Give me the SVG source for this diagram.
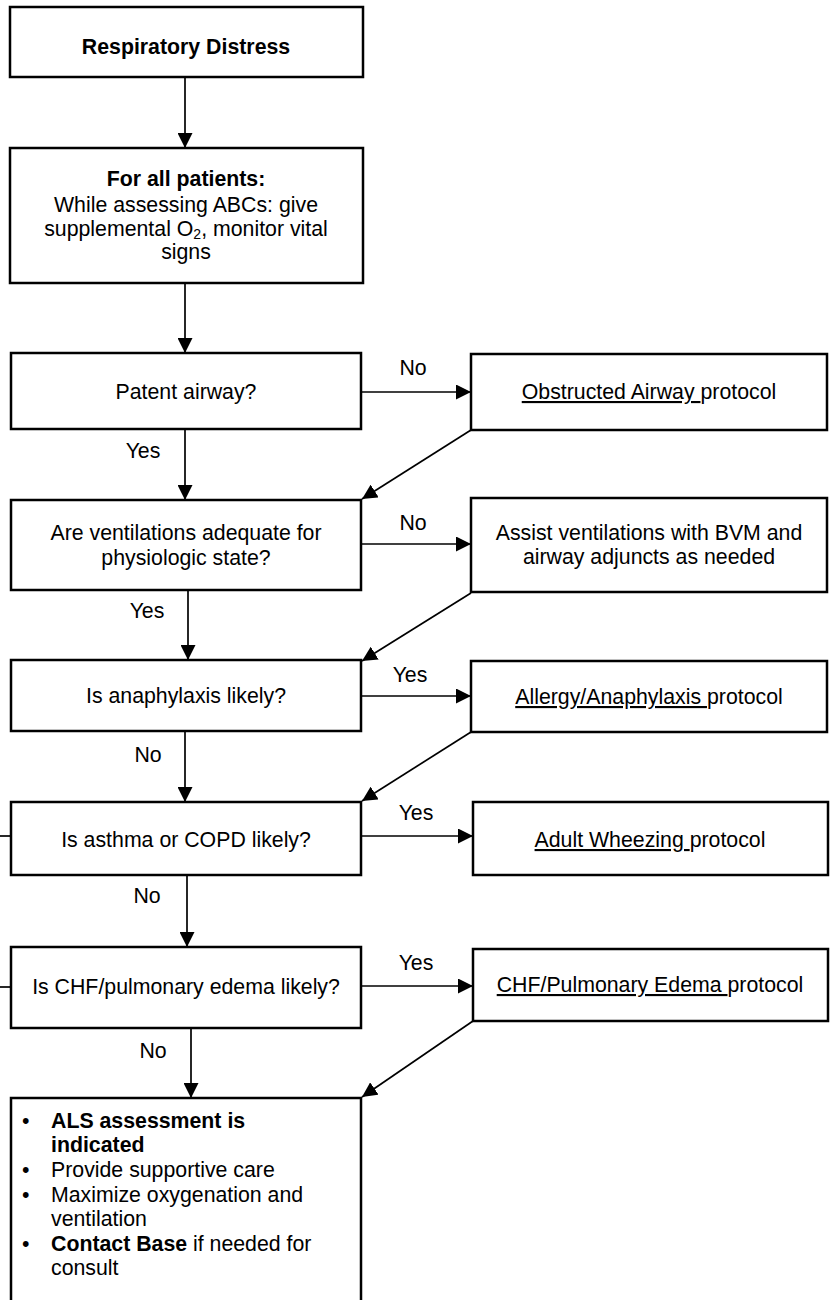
<svg xmlns="http://www.w3.org/2000/svg" width="830" height="1300" viewBox="0 0 830 1300">
  <style>
    .box { fill: #fff; stroke: #000; stroke-width: 2.5; }
    .conn { fill: none; stroke: #000; stroke-width: 1.7; }
    text { font-family: "Liberation Sans", Arial, sans-serif; font-size: 21.3px; fill: #000; }
    .c { text-anchor: middle; }
    .b { font-weight: bold; }
    .u { text-decoration: underline; }
  </style>
  <defs>
    <marker id="arrow" markerUnits="userSpaceOnUse" markerWidth="15" markerHeight="15" viewBox="0 0 15 15" refX="15" refY="7.5" orient="auto">
      <path d="M0,0 L15,7.5 L0,15 z" fill="#000"/>
    </marker>
  </defs>

  <rect x="0" y="0" width="830" height="1300" fill="#fff"/>

  <!-- connectors -->
  <g id="connectors">
    <line class="conn" x1="185" y1="78" x2="185" y2="148" marker-end="url(#arrow)"/>
    <line class="conn" x1="185" y1="284" x2="185" y2="353" marker-end="url(#arrow)"/>
    <line class="conn" x1="361" y1="392" x2="471" y2="392" marker-end="url(#arrow)"/>
    <line class="conn" x1="185" y1="430" x2="185" y2="500" marker-end="url(#arrow)"/>
    <line class="conn" x1="471" y1="430" x2="362" y2="499" marker-end="url(#arrow)"/>
    <line class="conn" x1="361" y1="544" x2="471" y2="544" marker-end="url(#arrow)"/>
    <line class="conn" x1="188" y1="591" x2="188" y2="660" marker-end="url(#arrow)"/>
    <line class="conn" x1="471" y1="593" x2="362" y2="661" marker-end="url(#arrow)"/>
    <line class="conn" x1="361" y1="696" x2="471" y2="696" marker-end="url(#arrow)"/>
    <line class="conn" x1="185" y1="732" x2="185" y2="802" marker-end="url(#arrow)"/>
    <line class="conn" x1="471" y1="732" x2="362" y2="801" marker-end="url(#arrow)"/>
    <line class="conn" x1="361" y1="836" x2="473" y2="836" marker-end="url(#arrow)"/>
    <line class="conn" x1="0" y1="836" x2="11" y2="836"/>
    <line class="conn" x1="187" y1="876" x2="187" y2="947" marker-end="url(#arrow)"/>
    <line class="conn" x1="361" y1="986" x2="473" y2="986" marker-end="url(#arrow)"/>
    <line class="conn" x1="0" y1="987" x2="11" y2="987"/>
    <line class="conn" x1="191" y1="1029" x2="191" y2="1098" marker-end="url(#arrow)"/>
    <line class="conn" x1="473" y1="1021" x2="362" y2="1097" marker-end="url(#arrow)"/>

    <text x="413" y="375" class="c">No</text>
    <text x="143" y="458" class="c">Yes</text>
    <text x="413" y="530" class="c">No</text>
    <text x="147" y="618" class="c">Yes</text>
    <text x="410" y="682" class="c">Yes</text>
    <text x="148" y="762" class="c">No</text>
    <text x="416" y="820" class="c">Yes</text>
    <text x="147" y="903" class="c">No</text>
    <text x="416" y="970" class="c">Yes</text>
    <text x="153" y="1058" class="c">No</text>
  </g>

  <!-- start -->
  <g id="n-start">
    <rect class="box" x="10" y="7" width="353" height="70"/>
    <text x="186" y="54" class="c b">Respiratory Distress</text>
  </g>

  <g id="n-all-patients">
    <rect class="box" x="10" y="148" width="353" height="135"/>
    <text x="186" y="186" class="c b">For all patients:</text>
    <text x="186" y="212" class="c">While assessing ABCs: give</text>
    <text x="186" y="236" class="c">supplemental O<tspan font-size="14" dy="3">2</tspan><tspan dy="-3">, monitor vital</tspan></text>
    <text x="186" y="259" class="c">signs</text>
  </g>

  <g id="n-patent-airway">
    <rect class="box" x="11" y="353" width="350" height="76"/>
    <text x="186" y="399" class="c">Patent airway?</text>
  </g>

  <g id="n-obstructed">
    <rect class="box" x="471" y="354" width="356" height="76"/>
    <text x="649" y="399" class="c"><tspan class="u">Obstructed Airway </tspan>protocol</text>
  </g>

  <g id="n-ventilations">
    <rect class="box" x="11" y="500" width="350" height="90"/>
    <text x="186" y="540" class="c">Are ventilations adequate for</text>
    <text x="186" y="565" class="c">physiologic state?</text>
  </g>

  <g id="n-assist">
    <rect class="box" x="471" y="498" width="356" height="94"/>
    <text x="649" y="540" class="c">Assist ventilations with BVM and</text>
    <text x="649" y="564" class="c">airway adjuncts as needed</text>
  </g>

  <g id="n-anaphylaxis">
    <rect class="box" x="11" y="660" width="350" height="71"/>
    <text x="186" y="703" class="c">Is anaphylaxis likely?</text>
  </g>

  <g id="n-allergy">
    <rect class="box" x="471" y="661" width="356" height="71"/>
    <text x="649" y="704" class="c"><tspan class="u">Allergy/Anaphylaxis </tspan>protocol</text>
  </g>

  <g id="n-asthma">
    <rect class="box" x="11" y="802" width="350" height="73"/>
    <text x="186" y="847" class="c">Is asthma or COPD likely?</text>
  </g>

  <g id="n-wheezing">
    <rect class="box" x="473" y="802" width="355" height="73"/>
    <text x="650" y="847" class="c"><tspan class="u">Adult Wheezing </tspan>protocol</text>
  </g>

  <g id="n-chf">
    <rect class="box" x="11" y="947" width="350" height="81"/>
    <text x="186" y="994" class="c">Is CHF/pulmonary edema likely?</text>
  </g>

  <g id="n-chf-protocol">
    <rect class="box" x="473" y="949" width="355" height="72"/>
    <text x="650" y="992" class="c"><tspan class="u">CHF/Pulmonary Edema </tspan>protocol</text>
  </g>

  <g id="n-als">
    <rect class="box" x="11" y="1098" width="350" height="230"/>
    <text x="22" y="1128">•</text>
    <text x="51" y="1128" class="b">ALS assessment is</text>
    <text x="51" y="1152" class="b">indicated</text>
    <text x="22" y="1177">•</text>
    <text x="51" y="1177">Provide supportive care</text>
    <text x="22" y="1202">•</text>
    <text x="51" y="1202">Maximize oxygenation and</text>
    <text x="51" y="1226">ventilation</text>
    <text x="22" y="1251">•</text>
    <text x="51" y="1251"><tspan class="b">Contact Base</tspan> if needed for</text>
    <text x="51" y="1275">consult</text>
  </g>
</svg>
